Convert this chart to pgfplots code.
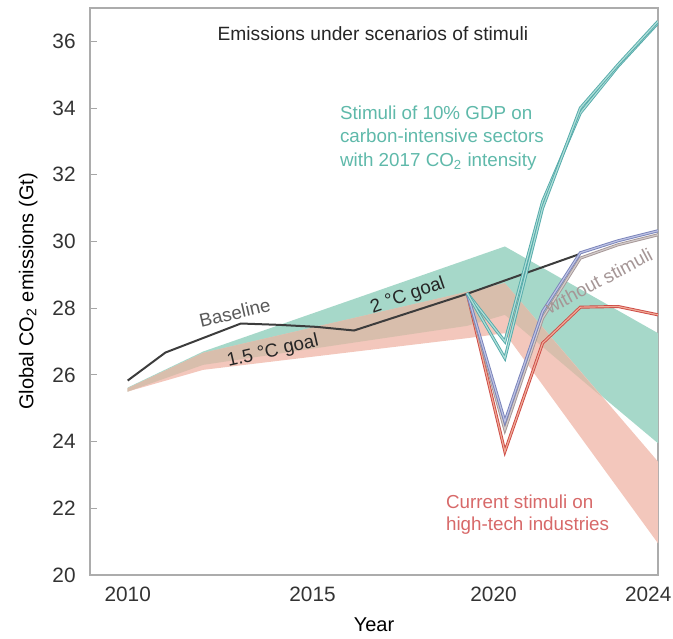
\documentclass[border=0pt]{standalone}
\usepackage{fontspec}
\setmainfont{Liberation Sans}
\usepackage{pgfplots}
\pgfplotsset{compat=1.18}

\definecolor{tealband}{RGB}{166,216,201}
\definecolor{pinkband}{RGB}{243,199,188}
\definecolor{tanband}{RGB}{216,190,172}
\definecolor{tealline}{RGB}{84,170,170}
\definecolor{teallight}{RGB}{175,222,216}
\definecolor{redline}{RGB}{205,75,70}
\definecolor{redlight}{RGB}{240,170,150}
\definecolor{purpleline}{RGB}{120,130,185}
\definecolor{purplelight}{RGB}{190,195,228}
\definecolor{grayline}{RGB}{165,150,150}
\definecolor{baseln}{RGB}{60,60,60}
\definecolor{tealtext}{RGB}{95,185,170}
\definecolor{redtext}{RGB}{215,105,105}

\begin{document}
\begin{tikzpicture}
\begin{axis}[
  name=ax,
  width=284pt, height=283.5pt, scale only axis,
  xmin=2009, xmax=2024.06, ymin=20, ymax=37,
  xtick={2010,2014.9,2019.7,2023.8},
  xticklabels={2010,2015,2020,2024},
  ytick={20,22,...,36},
  xtick pos=bottom, ytick pos=left,
  tick align=inside,
  major tick length=3.5pt,
  xtick style={draw=none},
  ytick style={gray!70, line width=0.5pt},
  axis line style={gray!65, line width=0.6pt},
  /pgf/number format/assume math mode=true,
  /pgf/number format/1000 sep={},
  tick label style={font=\fontsize{10.4}{12}\selectfont, text=black!80, inner sep=0pt},
  yticklabel style={xshift=-7pt},
  xticklabel style={yshift=-6pt},
  xlabel={Year},
  ylabel={Global CO\textsubscript{2} emissions (Gt)},
  label style={font=\fontsize{10.4}{12}\selectfont, text=black!80},
  every axis x label/.style={at={(axis description cs:0.5,-0.088)}, anchor=center},
  every axis y label/.style={at={(axis description cs:-0.109,0.5)}, rotate=90, anchor=center},
]
% 2 degree band
\addplot[fill=tealband, draw=none] coordinates {
  (2010,25.62) (2012,26.70) (2020,29.85) (2024.06,27.25)
  (2024.06,23.95) (2020,27.80) (2019,27.47) (2012,26.30) (2010,25.50)} -- cycle;
% 1.5 degree band
\addplot[fill=pinkband, draw=none] coordinates {
  (2010,25.60) (2012,26.66) (2020,28.75) (2024.06,23.40)
  (2024.06,20.95) (2020,27.25) (2019,27.10) (2012,26.15) (2010,25.50)} -- cycle;
% overlap
\addplot[fill=tanband, draw=none] coordinates {
  (2010,25.60) (2012,26.66) (2020,28.75) (2022.57,25.34)
  (2020,27.80) (2019,27.47) (2012,26.30) (2010,25.50)} -- cycle;

% baseline
\addplot[baseln, line width=1pt, mark=none] coordinates {
  (2010,25.83) (2011,26.67) (2013,27.54) (2014,27.50) (2015,27.44)
  (2016,27.33) (2019,28.43) (2022,29.63)};

% scenarios
\addplot[redline, line width=0.45pt, double=redlight, double distance=0.6pt, mark=none] coordinates {
  (2019,28.45) (2020,23.70) (2021,26.95) (2022,28.03) (2023,28.05) (2024.06,27.80)};
\addplot[grayline, line width=0.45pt, double=grayline!50, double distance=0.6pt, mark=none] coordinates {
  (2019,28.45) (2020,24.35) (2021,27.70) (2022,29.50) (2023,29.90) (2024.06,30.20)};
\addplot[purpleline, line width=0.45pt, double=purplelight, double distance=0.6pt, mark=none] coordinates {
  (2019,28.45) (2020,24.60) (2021,27.90) (2022,29.66) (2023,30.02) (2024.06,30.32)};
\addplot[tealline, line width=0.45pt, double=teallight, double distance=0.6pt, mark=none] coordinates {
  (2019,28.45) (2020,27.00) (2021,31.20) (2022,33.85) (2023,35.25) (2024.06,36.55)};
\addplot[tealline, line width=0.45pt, double=teallight, double distance=0.6pt, mark=none] coordinates {
  (2019,28.45) (2020,26.50) (2021,31.00) (2022,34.00) (2023,35.30) (2024.06,36.60)};

% labels
\node[font=\fontsize{9.6}{11}\selectfont, text=black!85] at (2016.5,36.24) {Emissions under scenarios of stimuli};
\node[font=\fontsize{9.4}{11.75}\selectfont, text=tealtext, align=left, anchor=west, inner sep=0pt] at (2015.62,33.1)
  {Stimuli of 10\% GDP on\\carbon-intensive sectors\\with 2017 CO\textsubscript{2} intensity};
\node[font=\fontsize{9.4}{11}\selectfont, text=redtext, align=left, anchor=west, inner sep=0pt] at (2018.43,21.82)
  {Current stimuli on\\high-tech industries};
\node[font=\fontsize{9.4}{11}\selectfont, text=black!65, rotate=13, inner sep=0.5pt] at (2012.84,27.86) {Baseline};
\node[font=\fontsize{9.4}{11}\selectfont, text=black!85, rotate=13, inner sep=0.5pt] at (2013.85,26.70) {1.5 °C goal};
\node[font=\fontsize{9.4}{11}\selectfont, text=black!85, rotate=19, inner sep=0.5pt] at (2017.43,28.37) {2 °C goal};
\node[font=\fontsize{9.4}{11}\selectfont, text=grayline, rotate=28, inner sep=0.5pt] at (2022.49,28.82) {without stimuli};
\end{axis}
\path (ax.south west) ++(-45pt,-30.5pt) (ax.north east) ++(7.5pt,4pt);
\end{tikzpicture}
\end{document}
